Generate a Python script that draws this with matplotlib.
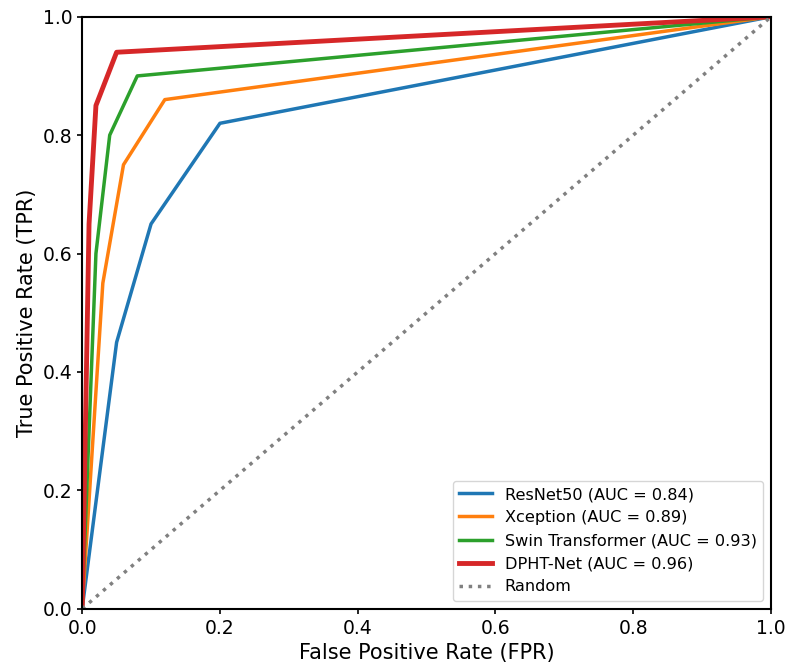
import matplotlib
matplotlib.use('Agg')
import matplotlib.pyplot as plt

# ROC points
fpr_resnet = [0.0, 0.05, 0.10, 0.20, 1.0]
tpr_resnet = [0.0, 0.45, 0.65, 0.82, 1.0]

fpr_xception = [0.0, 0.03, 0.06, 0.12, 1.0]
tpr_xception = [0.0, 0.55, 0.75, 0.86, 1.0]

fpr_swin = [0.0, 0.02, 0.04, 0.08, 1.0]
tpr_swin = [0.0, 0.60, 0.80, 0.90, 1.0]

fpr_dpht = [0.0, 0.01, 0.02, 0.05, 1.0]
tpr_dpht = [0.0, 0.65, 0.85, 0.94, 1.0]

labels = ['ResNet50 (AUC = 0.84)', 'Xception (AUC = 0.89)',
          'Swin Transformer (AUC = 0.93)', 'DPHT-Net (AUC = 0.96)']

fig, ax = plt.subplots(figsize=(7.9, 6.69), dpi=100)

ax.plot(fpr_resnet, tpr_resnet, color='#1f77b4', lw=2.5, label=labels[0])
ax.plot(fpr_xception, tpr_xception, color='#ff7f0e', lw=2.5, label=labels[1])
ax.plot(fpr_swin, tpr_swin, color='#2ca02c', lw=2.5, label=labels[2])
ax.plot(fpr_dpht, tpr_dpht, color='#d62728', lw=3.5, label=labels[3])
ax.plot([0, 1], [0, 1], color='gray', lw=2.5, ls=':', label='Random')

ax.set_xlim(0, 1)
ax.set_ylim(0, 1)
ax.set_xlabel('False Positive Rate (FPR)', fontsize=15)
ax.set_ylabel('True Positive Rate (TPR)', fontsize=15)
ax.tick_params(labelsize=13.5, width=1.2)
for s in ax.spines.values():
    s.set_linewidth(1.5)

ax.legend(loc='lower right', fontsize=11.6)

plt.subplots_adjust(left=0.104, right=0.976, top=0.975, bottom=0.09)
plt.savefig('out.png', dpi=100)
